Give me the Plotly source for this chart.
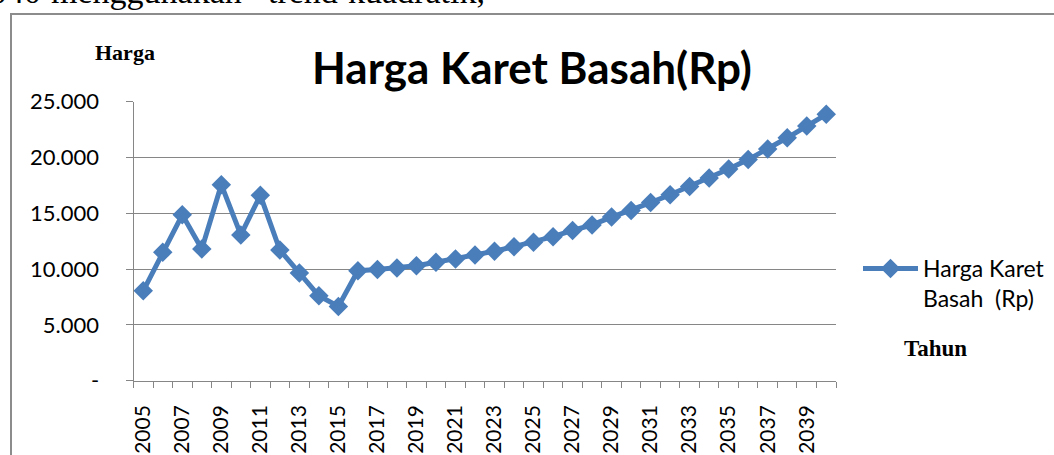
import plotly.graph_objects as go

W, H = 1054, 455

# ---- data ----
years = list(range(2005, 2041))
harga = [8050, 11500, 14850, 11800, 17550, 13050, 16600, 11700, 9650, 7600,
         6650, 9850, 9950, 10100, 10300, 10600, 10900, 11250, 11600, 12000,
         12400, 12900, 13450, 13950, 14650, 15250, 15950, 16650, 17400, 18150,
         18950, 19800, 20750, 21750, 22800, 23850]
ytick_vals = [0, 5000, 10000, 15000, 20000, 25000]
ytick_text = ["-", "5.000", "10.000", "15.000", "20.000", "25.000"]
xtick_vals = list(range(2005, 2040, 2))
series_name = "Harga Karet<br>Basah  (Rp)"
title_text = "<b>Harga Karet Basah(Rp)</b>"
top_words = ["2040", "menggunakan", "trend", "kuadratik,"]
top_word_left = [-28, 50, 267, 347]


def px(x):
    return x / W


def py(y):
    return 1 - y / H


BLUE = "#4A7EBB"
GRAY = "#868686"
SANS = "Lato"
SERIF = "Liberation Serif"

fig = go.Figure()
fig.add_trace(go.Scatter(
    x=years, y=harga, mode="lines+markers", name=series_name,
    line=dict(color=BLUE, width=5),
    marker=dict(symbol="diamond", size=15, color=BLUE),
))

annotations = [
    dict(text=title_text, x=px(532), y=py(67), xref="paper", yref="paper",
         xanchor="center", yanchor="middle", showarrow=False,
         font=dict(family=SANS, size=44, color="black")),
    dict(text="<b>Harga</b>", x=px(125), y=py(52), xref="paper", yref="paper",
         xanchor="center", yanchor="middle", showarrow=False,
         font=dict(family=SERIF, size=22, color="black")),
    dict(text="<b>Tahun</b>", x=px(935), y=py(348), xref="paper", yref="paper",
         xanchor="center", yanchor="middle", showarrow=False,
         font=dict(family=SERIF, size=23, color="black")),
]
# document text above the chart (cut off at the top edge)
for word, left in zip(top_words, top_word_left):
    annotations.append(dict(
        text=word, x=px(left), y=py(11.2), xref="paper", yref="paper",
        xanchor="left", yanchor="bottom", showarrow=False, borderpad=0,
        font=dict(family=SERIF, size=34, color="black")))

fig.update_layout(
    width=W, height=H,
    margin=dict(l=0, r=0, t=0, b=0, pad=0, autoexpand=False),
    paper_bgcolor="white", plot_bgcolor="white",
    showlegend=True,
    xaxis=dict(
        domain=[px(133.5), px(836)], range=[2004.5, 2040.5],
        tickmode="array", tickvals=xtick_vals, tickangle=-90,
        tickfont=dict(family=SANS, size=21, color="black"),
        showgrid=False, zeroline=False,
        showline=True, linecolor=GRAY, linewidth=1,
        ticks="outside", ticklen=15, tickcolor="rgba(0,0,0,0)",
        minor=dict(tick0=2004.5, dtick=1, ticks="outside", ticklen=6,
                   tickcolor=GRAY, tickwidth=1, showgrid=False),
    ),
    yaxis=dict(
        domain=[py(380.7), py(101.5)], range=[0, 25000],
        tickmode="array", tickvals=ytick_vals, ticktext=ytick_text,
        tickfont=dict(family=SANS, size=22, color="black"),
        showgrid=True, gridcolor=GRAY, gridwidth=1, zeroline=False,
        showline=True, linecolor=GRAY, linewidth=1,
        ticks="outside", ticklen=7, tickcolor=GRAY,
        ticklabelstandoff=22,
    ),
    legend=dict(
        x=px(858), y=py(247), xanchor="left", yanchor="top",
        font=dict(family=SANS, size=23, color="black"),
        valign="top", bgcolor="rgba(0,0,0,0)", itemwidth=55,
    ),
    annotations=annotations,
    shapes=[
        dict(type="rect", xref="paper", yref="paper",
             x0=px(11), y0=py(14), x1=1.05, y1=-0.1,
             line=dict(color="#8c8c8c", width=2), fillcolor="rgba(0,0,0,0)",
             layer="below"),
    ],
)

fig.write_html("out.html", config={"displayModeBar": False},
               post_script="document.body.style.margin='0';")
